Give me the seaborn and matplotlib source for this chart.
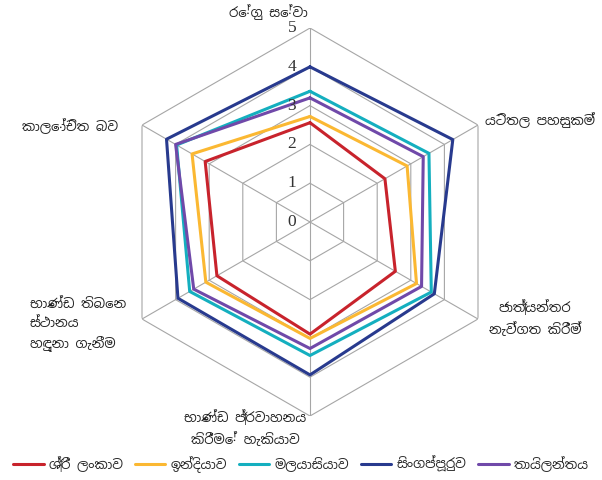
import numpy as np
import pandas as pd
import matplotlib
matplotlib.use("Agg")
import matplotlib.pyplot as plt
import matplotlib.transforms as mtransforms
from matplotlib.lines import Line2D
import seaborn as sns

# axes (clockwise from the top)
categories = ['රේගු සේවා', 'යටිතල පහසුකම්', 'ජාත්‍යන්තර\nනැව්ගත කිරීම්',
              'භාණ්ඩ ප්‍රවාහනය\nකිරීමේ හැකියාව', 'භාණ්ඩ තිබෙන\nස්ථානය\nහඳුනා ගැනීම',
              'කාලෝචිත බව']
countries = ['ශ්‍රී ලංකාව', 'ඉන්දියාව', 'මලයාසියාව', 'සිංගප්පූරුව', 'තායිලන්තය']

sri_lanka = [2.56, 2.23, 2.54, 2.89, 2.77, 3.12]
india     = [2.72, 2.89, 3.17, 3.00, 3.10, 3.51]
malaysia  = [3.37, 3.54, 3.61, 3.44, 3.58, 3.97]
singapore = [4.00, 4.25, 3.70, 3.94, 3.93, 4.27]
thailand  = [3.20, 3.37, 3.32, 3.26, 3.46, 4.00]
ticks = [0, 1, 2, 3, 4, 5]

colors = ['#C8232C', '#FBB832', '#14AFBF', '#283A8E', '#7049A9']

sns.set_style('white')
plt.rcParams['font.family'] = ['Noto Sans Sinhala', 'Noto Sans', 'DejaVu Sans']

n = len(categories)
angles = np.linspace(0, 2 * np.pi, n, endpoint=False)
closed = np.append(angles, 2 * np.pi)

rows = []
for name, vals in zip(countries, [sri_lanka, india, malaysia, singapore, thailand]):
    for a, v in zip(closed, vals + vals[:1]):
        rows.append({'angle': a, 'value': v, 'country': name})
df = pd.DataFrame(rows)

fig = plt.figure(figsize=(6.02, 4.8), dpi=100)
ax = fig.add_axes([0.1927, 0.1333, 0.6445, 0.8083], projection='polar')
ax.set_theta_offset(np.pi / 2)
ax.set_theta_direction(-1)
ax.set_ylim(0, 5)
ax.grid(False)
ax.spines['polar'].set_visible(False)
ax.set_xticks([])
ax.set_yticks([])

# hexagonal grid
for r in ticks[1:]:
    ax.plot(closed, [r] * len(closed), color='#a6a6a6', lw=0.8, zorder=1)
for a in angles:
    ax.plot([a, a], [0, 5], color='#a6a6a6', lw=0.8, zorder=1)

sns.lineplot(data=df, x='angle', y='value', hue='country', hue_order=countries,
             palette=colors, sort=False, estimator=None, lw=2.2, legend=False,
             ax=ax, zorder=3)
ax.set_xlabel('')
ax.set_ylabel('')

off = mtransforms.offset_copy(ax.transData, fig=fig, x=-10, y=0, units='points')
for t in ticks:
    ax.text(0, t, str(t), transform=off, ha='right', va='center',
            fontsize=12.5, family='Liberation Serif', color='#333333')

# category labels (pixel positions from top-left)
lab_pos = [(268, 12, 'center'), (540, 120, 'center'), (535, 318, 'center'),
           (245, 428, 'center'), (30, 325, 'left'), (70, 126, 'center')]
for txt, (px, py, ha) in zip(categories, lab_pos):
    fig.text(px / 602, 1 - py / 480, txt, ha=ha, va='center', fontsize=9.5,
             color='#222222', linespacing=1.6)

handles = [Line2D([], [], color=c, lw=2.2) for c in colors]
fig.legend(handles, countries, loc='lower center', ncol=5, frameon=False,
           bbox_to_anchor=(0.5, -0.01), fontsize=9.5, handlelength=2.3,
           columnspacing=0.9, handletextpad=0.4)

fig.savefig('out.png', dpi=100)
